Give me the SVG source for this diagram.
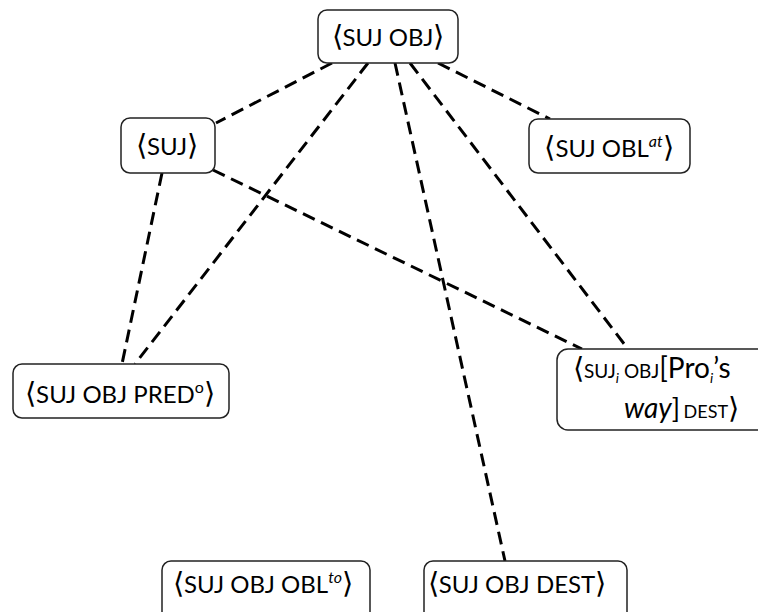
<svg xmlns="http://www.w3.org/2000/svg" width="758" height="612" viewBox="0 0 758 612">
<style>
.box{fill:#fff;stroke:#222;stroke-width:1.5}
.t{font-family:Lato,"Liberation Sans",sans-serif;font-size:24px;fill:#000;text-anchor:middle}
.b{font-size:29px}
.sc{font-size:19px}
.sup{font-size:16px;font-style:italic}
.sub{font-size:14px;font-style:italic}
.edge{stroke:#000;stroke-width:3;stroke-dasharray:13 7;fill:none}
</style>
<rect width="758" height="612" fill="#fff"/>
<g id="connectors">
<line class="edge" x1="332" y1="63" x2="216" y2="123"/>
<line class="edge" x1="368" y1="63" x2="135" y2="364"/>
<line class="edge" x1="395" y1="63" x2="505" y2="561"/>
<line class="edge" x1="410" y1="63" x2="628" y2="349"/>
<line class="edge" x1="438" y1="63" x2="550" y2="119"/>
<line class="edge" x1="162" y1="173" x2="122" y2="364"/>
<line class="edge" x1="213" y1="170" x2="582" y2="349"/>
</g>
<g id="n-suj-obj">
<rect class="box" x="318" y="10" width="140" height="53" rx="9"/>
<text class="t" x="388" y="46"><tspan class="b">⟨</tspan>SUJ OBJ<tspan class="b">⟩</tspan></text>
</g>
<g id="n-suj">
<rect class="box" x="121" y="118" width="94" height="55" rx="9"/>
<text class="t" x="167" y="155"><tspan class="b">⟨</tspan>SUJ<tspan class="b">⟩</tspan></text>
</g>
<g id="n-suj-obl-at">
<rect class="box" x="529" y="119" width="161" height="54" rx="9"/>
<text class="t" x="609" y="157"><tspan class="b">⟨</tspan>SUJ OBL<tspan class="sup" dy="-10">at</tspan><tspan class="b" dy="10">⟩</tspan></text>
</g>
<g id="n-pred">
<rect class="box" x="13" y="364" width="216" height="54" rx="9"/>
<text class="t" x="120" y="403"><tspan class="b">⟨</tspan>SUJ OBJ PRED<tspan font-size="16px" dy="-10">o</tspan><tspan class="b" dy="10">⟩</tspan></text>
</g>
<g id="n-way">
<rect class="box" x="557" y="349" width="215" height="81" rx="11"/>
<text class="t" x="573" y="378" style="text-anchor:start"><tspan class="b">⟨</tspan><tspan class="sc">SUJ</tspan><tspan class="sub" dy="5">i</tspan><tspan class="sc" dy="-5"> OBJ</tspan><tspan font-size="28px">[Pro</tspan><tspan class="sub" font-size="16px" dy="5">i</tspan><tspan font-size="28px" dy="-5">’s</tspan></text>
<text class="t" x="624" y="418" style="text-anchor:start"><tspan font-style="italic" font-size="28px">way</tspan><tspan font-size="27px">]</tspan><tspan font-size="14px"> </tspan><tspan font-size="18px">DEST</tspan><tspan class="b">⟩</tspan></text>
</g>
<g id="n-obl-to">
<rect class="box" x="162" y="561" width="208" height="60" rx="9"/>
<text class="t" x="263" y="593"><tspan class="b">⟨</tspan>SUJ OBJ OBL<tspan class="sup" dy="-10">to</tspan><tspan class="b" dy="10">⟩</tspan></text>
</g>
<g id="n-dest">
<rect class="box" x="424" y="561" width="203" height="60" rx="9"/>
<text class="t" x="517" y="593"><tspan class="b">⟨</tspan>SUJ OBJ DEST<tspan class="b">⟩</tspan></text>
</g>
</svg>
